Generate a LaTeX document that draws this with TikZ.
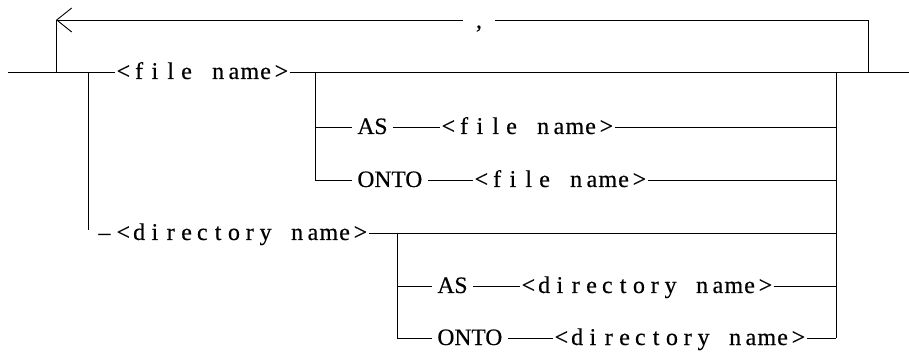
\documentclass[tikz,border=0pt]{standalone}
\usepackage{fontspec}
\setmainfont{Liberation Serif}
\newfontfamily\heavyserif{Liberation Serif}[FakeBold=0.5]
\usetikzlibrary{arrows.meta}
\makeatletter
\newlength\pw \setlength\pw{15.8pt}
\newcommand\pitched[1]{\@tfor\pch:=#1\do{\makebox[\pw][c]{\pch}}}
\makeatother
\begin{document}
\begin{tikzpicture}[x=1pt,y=-1pt,line width=0.9pt,
  meta/.style={inner sep=0pt,anchor=base west,font=\heavyserif\fontsize{24}{28}\selectfont},
  kw/.style={inner xsep=5pt,inner ysep=0pt,anchor=base west,font=\heavyserif\fontsize{23.5}{28}\selectfont},
  back/.style={-{Straight Barb[length=15pt,width=24pt]}}]
\useasboundingbox (0,0) rectangle (909,352);
% coordinates
\coordinate (S) at (8,72);
\coordinate (E) at (909,72);
\coordinate (LT) at (56,20);
\coordinate (LB) at (56,72);
\coordinate (RT) at (868,20);
\coordinate (RB) at (868,72);
\coordinate (A1) at (88,72);
\coordinate (A2) at (88,230);
\coordinate (B1) at (315,72);
\coordinate (B2) at (315,127);
\coordinate (B3) at (315,180);
\coordinate (C1) at (397,233);
\coordinate (C2) at (397,286);
\coordinate (C3) at (397,338);
\coordinate (R1) at (836,72);
\coordinate (R2) at (836,127);
\coordinate (R3) at (836,180);
\coordinate (R4) at (836,233);
\coordinate (R5) at (836,286);
\coordinate (R6) at (836,338);
% nodes
\node[inner xsep=13pt,inner ysep=0pt,anchor=base,font=\heavyserif\fontsize{24}{28}\selectfont] (comma) at (479,28) {,};
\node[meta] (fn1) at (115,79) {\pitched{<file~name>}};
\node[kw] (as1) at (352,134) {AS};
\node[meta] (fn2) at (440,134) {\pitched{<file~name>}};
\node[kw] (onto1) at (352,187) {ONTO};
\node[meta] (fn3) at (473,187) {\pitched{<file~name>}};
\node[meta] (dn1) at (98,240) {\makebox[17pt][l]{–}\pitched{<directory~name>}};
\node[kw] (as2) at (432,293) {AS};
\node[meta] (dn2) at (520,293) {\pitched{<directory~name>}};
\node[kw] (onto2) at (432,345) {ONTO};
\node[meta] (dn3) at (553,345) {\pitched{<directory~name>}};
% loop
\draw (RB) -- (RT) -- (RT -| comma.east);
\draw[back] (LT -| comma.west) -- (LT);
\draw (LT) -- (LB);
% main line
\draw (S) -- (S -| fn1.west);
\draw (S -| fn1.east) -- (E);
% file branch
\draw (B1) -- (B3);
\draw (B2) -- (B2 -| as1.west);
\draw (B2 -| as1.east) -- (B2 -| fn2.west);
\draw (B2 -| fn2.east) -- (R2);
\draw (B3) -- (B3 -| onto1.west);
\draw (B3 -| onto1.east) -- (B3 -| fn3.west);
\draw (B3 -| fn3.east) -- (R3);
% directory branch
\draw (A1) -- (A2);
\draw (C1 -| dn1.east) -- (R4);
\draw (C1) -- (C3);
\draw (C2) -- (C2 -| as2.west);
\draw (C2 -| as2.east) -- (C2 -| dn2.west);
\draw (C2 -| dn2.east) -- (R5);
\draw (C3) -- (C3 -| onto2.west);
\draw (C3 -| onto2.east) -- (C3 -| dn3.west);
\draw (C3 -| dn3.east) -- (R6);
% right collector
\draw (R1) -- (R6);
\end{tikzpicture}
\end{document}
